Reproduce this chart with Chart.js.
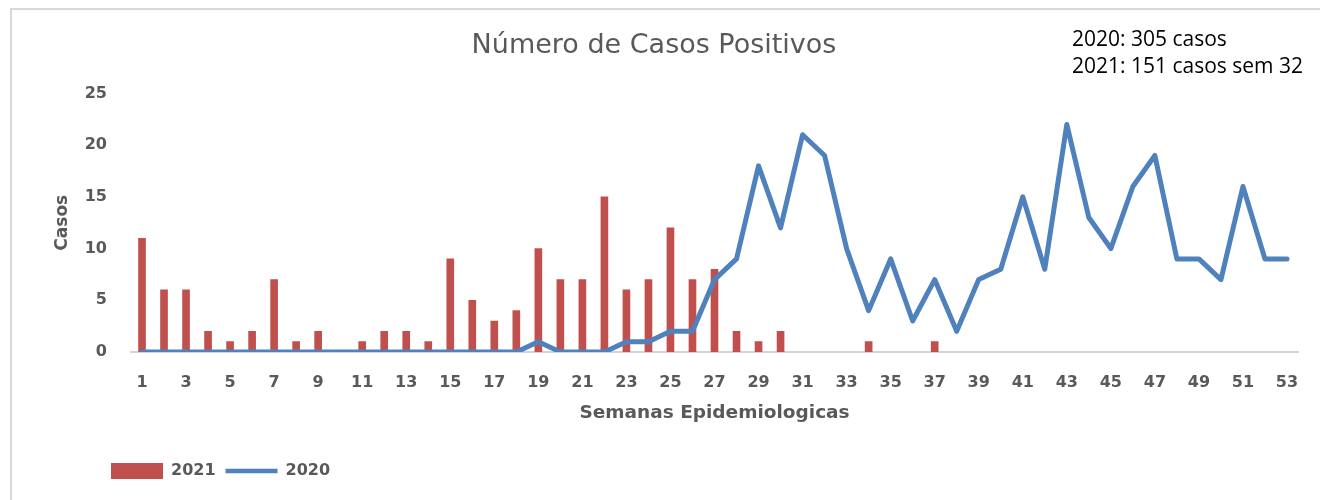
<!DOCTYPE html>
<html>
<head>
<meta charset="utf-8">
<script src="https://cdn.jsdelivr.net/npm/chart.js@4"></script>
<style>
  html, body { margin: 0; padding: 0; background: #fff; overflow: hidden; }
  #frame { position: absolute; left: 10px; top: 8px; width: 1320px; height: 500px; border-left: 2px solid #d9d9d9; border-top: 2px solid #d9d9d9; box-sizing: border-box; }
  #wrap { position: absolute; left: 10px; top: 8px; width: 1310px; height: 492px; }
</style>
</head>
<body>
<div id="frame"></div>
<div id="wrap"><canvas id="casosChart"></canvas></div>
<script>
// semanas epidemiologicas 1..53
const semanas = [];
for (let i = 1; i <= 53; i++) semanas.push(String(i));

// 2021 (ate semana 37)
const casos2021 = [11, 6, 6, 2, 1, 2, 7, 1, 2, 0,
  1, 2, 2, 1, 9, 5, 3, 4, 10, 7,
  7, 15, 6, 7, 12, 7, 8, 2, 1, 2,
  0, 0, 0, 1, 0, 0, 1];

// 2020
const casos2020 = [0, 0, 0, 0, 0, 0, 0, 0, 0, 0,
  0, 0, 0, 0, 0, 0, 0, 0, 1, 0,
  0, 0, 1, 1, 2, 2, 7, 9, 18, 12,
  21, 19, 10, 4, 9, 3, 7, 2, 7, 8,
  15, 8, 22, 13, 10, 16, 19, 9, 9, 7,
  16, 9, 9];

const yTicks = [0, 5, 10, 15, 20, 25];
const notas = ["2020: 305 casos", "2021: 151 casos sem 32"];

const cinza = '#595959';
const fonte = '"DejaVu Sans", Verdana, sans-serif';

// texto no canto superior direito
const notasPlugin = {
  id: 'notas',
  afterDraw(chart) {
    const ctx = chart.ctx;
    ctx.save();
    ctx.font = '21px "Open Sans", sans-serif';
    ctx.fillStyle = '#000';
    ctx.textBaseline = 'middle';
    ctx.textAlign = 'left';
    ctx.fillText(notas[0], 1062, 32);
    ctx.fillText(notas[1], 1062, 59);
    ctx.restore();
  }
};

// legenda mais para a direita, como no original
const legendaPlugin = {
  id: 'legendaPos',
  afterLayout(chart) {
    const lg = chart.legend;
    const dy = 463 - (lg.top + lg.bottom) / 2;
    lg.left += 91; lg.right += 91;
    lg.top += dy; lg.bottom += dy;
  }
};

new Chart(document.getElementById('casosChart'), {
  type: 'bar',
  data: {
    labels: semanas,
    datasets: [{
      label: '2021',
      data: casos2021.map(v => v || null), // semanas sem casos: sem barra
      backgroundColor: '#C0504D',
      barThickness: 7,
      order: 2
    }, {
      type: 'line',
      label: '2020',
      data: casos2020,
      borderColor: '#4F81BD',
      backgroundColor: '#4F81BD',
      borderWidth: 5,
      pointRadius: 0,
      tension: 0,
      borderCapStyle: 'round',
      borderJoinStyle: 'round',
      order: 1
    }]
  },
  options: {
    responsive: true,
    maintainAspectRatio: false,
    animation: false,
    layout: { padding: { left: 0, right: 22, top: 0, bottom: 40 } },
    plugins: {
      title: {
        display: true,
        text: 'Número de Casos Positivos',
        color: cinza,
        font: { family: fonte, size: 27, weight: 'normal' },
        padding: { top: 22, bottom: 31 }
      },
      legend: {
        position: 'bottom',
        align: 'start',
        labels: {
          usePointStyle: true,
          pointStyleWidth: 52,
          boxHeight: 17,
          color: cinza,
          font: { family: fonte, size: 16, weight: 'bold' },
          padding: 10,
          generateLabels(chart) {
            const items = Chart.defaults.plugins.legend.labels.generateLabels(chart);
            items.sort((a, b) => a.datasetIndex - b.datasetIndex);
            items.forEach(it => {
              if (it.datasetIndex === 0) { it.pointStyle = 'rect'; it.lineWidth = 0; }
              else { it.pointStyle = 'line'; it.lineWidth = 4.5; it.strokeStyle = '#4F81BD'; }
            });
            return items;
          }
        }
      },
      tooltip: { enabled: false }
    },
    scales: {
      x: {
        grid: { display: false, drawTicks: false },
        border: { color: '#d4d4d4', width: 2 },
        afterFit(scale) { scale.height = 72; },
        ticks: {
          autoSkip: false,
          maxRotation: 0,
          color: cinza,
          padding: 21,
          font: { family: fonte, size: 16, weight: 'bold' },
          callback(v, i) { return i % 2 === 0 ? semanas[i] : ''; }
        },
        title: {
          display: true,
          text: 'Semanas Epidemiologicas',
          color: cinza,
          font: { family: fonte, size: 18.5, weight: 'bold' },
          padding: { top: 0, bottom: 0 }
        }
      },
      y: {
        min: 0,
        max: 25,
        grid: { display: false, drawTicks: false },
        border: { display: false },
        afterFit(scale) { scale.width = 121; },
        afterBuildTicks(scale) { scale.ticks = yTicks.map(v => ({ value: v })); },
        ticks: {
          color: cinza,
          padding: 24,
          font: { family: fonte, size: 16, weight: 'bold' }
        },
        title: {
          display: true,
          text: 'Casos',
          color: cinza,
          font: { family: fonte, size: 17, weight: 'bold' },
          padding: { top: 42, bottom: 0 }
        }
      }
    }
  },
  plugins: [notasPlugin, legendaPlugin]
});
</script>
</body>
</html>
